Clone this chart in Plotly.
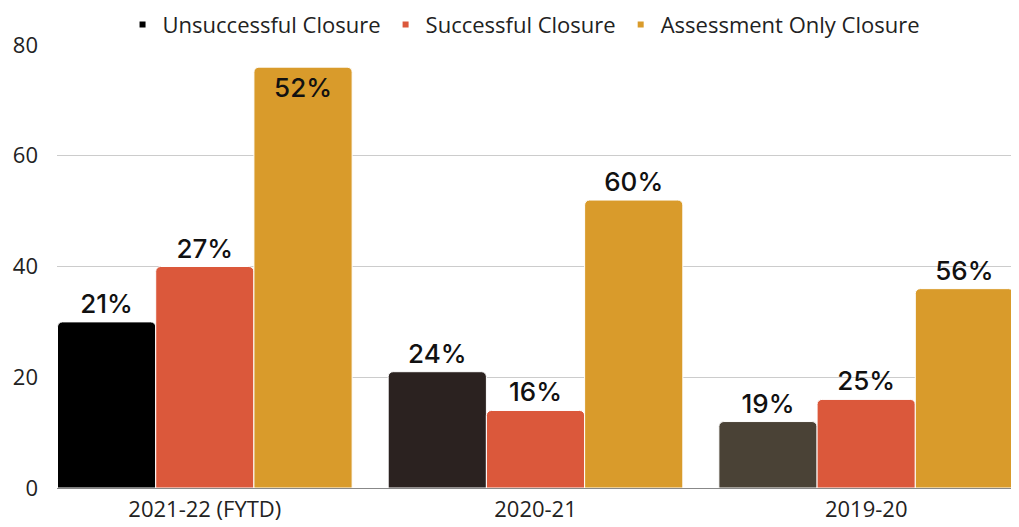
import plotly.graph_objects as go

categories = ["2021-22 (FYTD)", "2020-21", "2019-20"]
series_names = ["Unsuccessful Closure", "Successful Closure", "Assessment Only Closure"]
unsuccessful = [30, 21, 12]
successful = [40, 14, 16]
assessment = [76, 52, 36]
unsuccessful_labels = ["21%", "24%", "19%"]
successful_labels = ["27%", "16%", "25%"]
assessment_labels = ["<br>52%", "60%", "56%"]

unsuccessful_colors = ["#000000", "#2b2220", "#4a4236"]
red = "#db583b"
gold = "#d99b2b"

label_font = dict(family="Inter, Lato, sans-serif", size=26, color="#111111", weight=500)

fig = go.Figure()

def add_bar(name, vals, labels, color, positions):
    fig.add_trace(go.Bar(
        x=categories, y=vals, name=name, text=labels,
        textposition=positions, insidetextanchor="end",
        textfont=label_font, outsidetextfont=label_font, insidetextfont=label_font,
        marker=dict(color=color, line=dict(color="white", width=1)),
        cliponaxis=False, showlegend=False, textangle=0,
    ))

add_bar(series_names[0], unsuccessful, unsuccessful_labels, unsuccessful_colors, "outside")
add_bar(series_names[1], successful, successful_labels, red, "outside")
add_bar(series_names[2], assessment, assessment_labels, gold, ["inside", "outside", "outside"])

# legend entries with small square markers
for name, c in zip(series_names, ["#000000", red, gold]):
    fig.add_trace(go.Scatter(
        x=[None], y=[None], mode="markers", name=name,
        marker=dict(symbol="square", size=6, color=c),
    ))

fig.update_layout(
    width=1011, height=519,
    margin=dict(l=49, r=4, t=37, b=39, autoexpand=False),
    paper_bgcolor="white", plot_bgcolor="white",
    barmode="group", bargap=0.109, bargroupgap=0, barcornerradius=5,
    font=dict(family="Open Sans, sans-serif", size=22, color="#222222"),
    legend=dict(orientation="h", x=0.487, xanchor="center",
                yref="container", y=0.968, yanchor="middle",
                font=dict(family="Open Sans, sans-serif", size=22, color="#222222"),
                itemwidth=30, tracegroupgap=0),
    xaxis=dict(range=[-0.447, 2.45], showgrid=False, showline=True, linecolor="#888888",
               linewidth=1, ticks="", ticklabelstandoff=2, automargin=False,
               tickfont=dict(size=22, color="#222222")),
    yaxis=dict(range=[0, 80], dtick=20, showgrid=True, gridcolor="#cccccc", gridwidth=1,
               zeroline=False, ticks="", ticklabelstandoff=18, automargin=False,
               tickfont=dict(size=22, color="#222222")),
)

fig.write_html("out.html")
